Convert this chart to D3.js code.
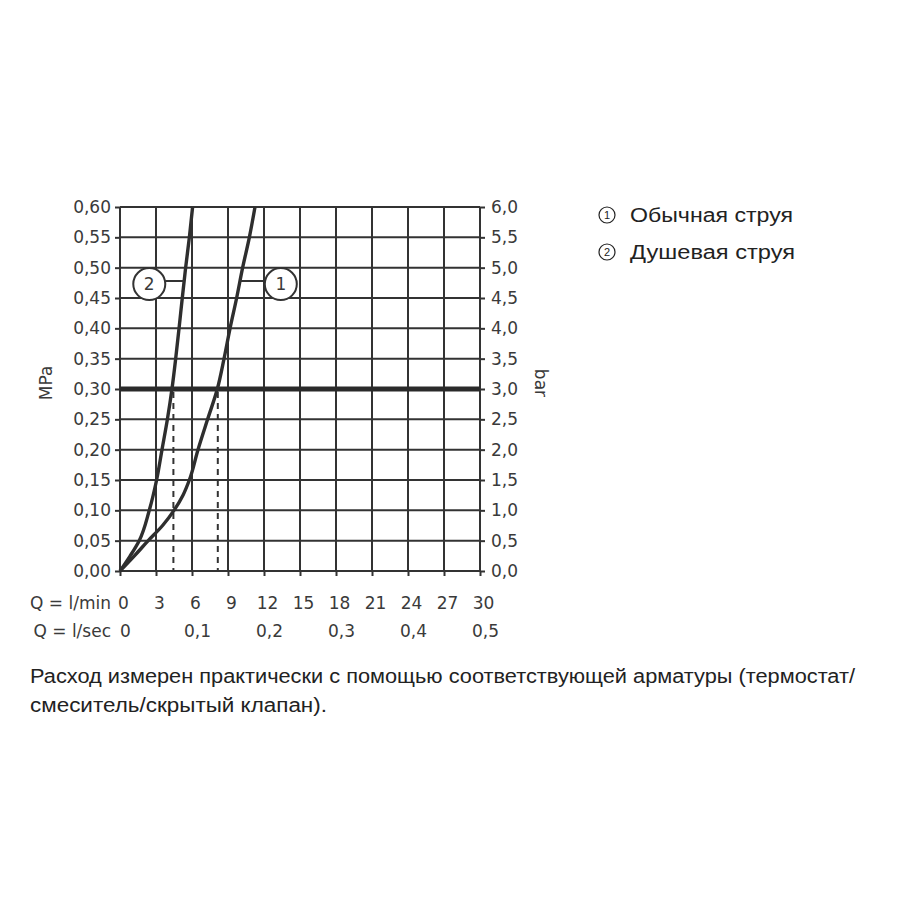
<!DOCTYPE html>
<html><head><meta charset="utf-8">
<script src="https://cdn.jsdelivr.net/npm/d3@7"></script>
<style>
body{margin:0;background:#fff;}
svg{display:block;}
</style></head>
<body>
<svg id="chart" width="900" height="900"></svg>
<script>
// ---- data ----
const qMinTicks = [0,3,6,9,12,15,18,21,24,27,30];
const qSecTicks = [0,0.1,0.2,0.3,0.4,0.5];
const mpaTicks = [0,0.05,0.10,0.15,0.20,0.25,0.30,0.35,0.40,0.45,0.50,0.55,0.60];
const barTicks = [0,0.5,1,1.5,2,2.5,3,3.5,4,4.5,5,5.5,6];
const seriesNames = ["Обычная струя","Душевая струя"];
// curve 1: [Q l/min, MPa]
const curve1 = [[0,0],[1.2,0.025],[2.35,0.05],[3.55,0.075],[4.5,0.10],[5.25,0.125],[5.78,0.15],[6.5,0.20],[7.3,0.25],[8.11,0.30],[8.67,0.35],[9.17,0.40],[9.72,0.45],[10.22,0.50],[10.78,0.55],[11.25,0.60]];
// curve 2
const curve2 = [[0,0],[0.85,0.025],[1.6,0.05],[2.44,0.10],[3.05,0.15],[3.5,0.20],[3.95,0.25],[4.33,0.30],[4.64,0.35],[4.92,0.40],[5.19,0.45],[5.47,0.50],[5.78,0.55],[6.05,0.60]];
const refPressure = 0.30;
const refFlows = [8.15, 4.45];
const calloutQ = [13.4, 2.44];
const calloutP = 0.473;
const footnote = ["Расход измерен практически с помощью соответствующей арматуры (термостат/","смеситель/скрытый клапан)."];

// ---- scales ----
const svg = d3.select("#chart");
const x = d3.scaleLinear().domain([0,30]).range([120,480]);
const xSec = d3.scaleLinear().domain([0,0.5]).range([120,480]);
const y = d3.scaleLinear().domain([0,0.6]).range([571,207]);
const yBar = d3.scaleLinear().domain([0,6]).range([571,207]);
const ink = "#333";
const font = "'DejaVu Sans', sans-serif";
const comma = s => s.replace('.', ',');

// grid
const g = svg.append("g");
g.selectAll("line.v").data(qMinTicks).join("line")
  .attr("x1", d=>x(d)).attr("x2", d=>x(d)).attr("y1", y(0)).attr("y2", y(0.6))
  .attr("stroke", ink).attr("stroke-width", 2);
g.selectAll("line.h").data(mpaTicks).join("line")
  .attr("y1", d=>y(d)).attr("y2", d=>y(d)).attr("x1", x(0)).attr("x2", x(30))
  .attr("stroke", ink).attr("stroke-width", 2);

// axes
function styleAxis(sel){
  sel.select(".domain").remove();
  sel.selectAll(".tick line").attr("stroke", ink).attr("stroke-width", 2);
  sel.selectAll(".tick text").attr("fill", "#3a3a3a").style("font-family", font).style("font-size", "17px");
}
svg.append("g").attr("transform", `translate(${x(0)},0)`)
  .call(d3.axisLeft(y).tickValues(mpaTicks).tickSize(5).tickPadding(4).tickFormat(d=>comma(d.toFixed(2))))
  .call(styleAxis);
svg.append("g").attr("transform", `translate(${x(30)},0)`)
  .call(d3.axisRight(yBar).tickValues(barTicks).tickSize(5).tickPadding(6).tickFormat(d=>comma(d.toFixed(1))))
  .call(styleAxis);
svg.append("g").attr("transform", `translate(0,${y(0)})`)
  .call(d3.axisBottom(x).tickValues(qMinTicks).tickSize(5).tickPadding(21).tickFormat(d=>String(d)))
  .call(styleAxis)
  .selectAll(".tick text").attr("dx", 3);
svg.append("g").attr("transform", `translate(0,${y(0)+28})`)
  .call(d3.axisBottom(xSec).tickValues(qSecTicks).tickSize(0).tickPadding(26).tickFormat(d=>d===0?"0":comma(String(d))))
  .call(styleAxis)
  .selectAll(".tick text").attr("dx", 5);

// row labels
svg.append("text").attr("x", 111).attr("y", 603).attr("dy", "0.35em").attr("text-anchor", "end")
  .attr("fill", "#3a3a3a").style("font-family", font).style("font-size", "17px").text("Q = l/min");
svg.append("text").attr("x", 111).attr("y", 631).attr("dy", "0.35em").attr("text-anchor", "end")
  .attr("fill", "#3a3a3a").style("font-family", font).style("font-size", "17px").text("Q = l/sec");

// axis titles
svg.append("text").attr("transform", `translate(52,${y(0.31)}) rotate(-90)`).attr("text-anchor", "middle")
  .attr("fill", "#3a3a3a").style("font-family", font).style("font-size", "17px").text("MPa");
svg.append("text").attr("transform", `translate(535,${y(0.31)}) rotate(90)`).attr("text-anchor", "middle")
  .attr("fill", "#3a3a3a").style("font-family", font).style("font-size", "17px").text("bar");

// reference line 0.30
svg.append("line").attr("x1", x(0)).attr("x2", x(30)).attr("y1", y(refPressure)).attr("y2", y(refPressure))
  .attr("stroke", "#2a2a2a").attr("stroke-width", 5);

// dashed drop lines
svg.selectAll("line.drop").data(refFlows).join("line")
  .attr("x1", d=>x(d)).attr("x2", d=>x(d)).attr("y1", y(refPressure)+3).attr("y2", y(0))
  .attr("stroke", ink).attr("stroke-width", 2).attr("stroke-dasharray", "6,5");

// curves
const line = d3.line().x(d=>x(d[0])).y(d=>y(d[1])).curve(d3.curveMonotoneY);
[curve1, curve2].forEach(c=>{
  svg.append("path").datum(c).attr("d", line).attr("fill", "none")
    .attr("stroke", "#2e2e2e").attr("stroke-width", 3.4).attr("stroke-linejoin", "round");
});

// callouts
function qAt(curve, p){
  for(let i=1;i<curve.length;i++){
    if(curve[i][1]>=p){const a=curve[i-1], b=curve[i]; return a[0]+(b[0]-a[0])*(p-a[1])/(b[1]-a[1]);}
  }
  return curve[curve.length-1][0];
}
const r = 16;
[[curve1, calloutQ[0], "1"], [curve2, calloutQ[1], "2"]].forEach(([c, q, lab])=>{
  const cx = x(q), cy = y(calloutP);
  const qc = qAt(c, calloutP+0.005);
  const lx = x(qc), ly = y(calloutP+0.005);
  const edge = cx < lx ? cx + r : cx - r;
  svg.append("line").attr("x1", edge).attr("x2", lx).attr("y1", ly).attr("y2", ly)
    .attr("stroke", ink).attr("stroke-width", 2);
  svg.append("circle").attr("cx", cx).attr("cy", cy).attr("r", r)
    .attr("fill", "#fff").attr("stroke", ink).attr("stroke-width", 2);
  svg.append("text").attr("x", cx).attr("y", cy).attr("dy", "0.36em").attr("text-anchor", "middle")
    .attr("fill", "#3a3a3a").style("font-family", font).style("font-size", "17px").text(lab);
});

// legend
const legendFont = "'Liberation Sans', Arial, sans-serif";
const legendWidths = [163, 165];
seriesNames.forEach((name, i)=>{
  const cy = 215 + i*37;
  svg.append("circle").attr("cx", 607).attr("cy", cy).attr("r", 8)
    .attr("fill", "none").attr("stroke", "#222").attr("stroke-width", 1.2);
  svg.append("text").attr("x", 607).attr("y", cy).attr("dy", "0.36em").attr("text-anchor", "middle")
    .attr("fill", "#222").style("font-family", legendFont).style("font-size", "11px").text(String(i+1));
  svg.append("text").attr("x", 630).attr("y", cy).attr("dy", "0.36em")
    .attr("fill", "#222").style("font-family", legendFont).style("font-size", "20px")
    .attr("textLength", legendWidths[i]).attr("lengthAdjust", "spacingAndGlyphs").text(name);
});

// footnote
const noteFont = "'Liberation Sans Narrow', 'Liberation Sans', Arial, sans-serif";
const noteWidths = [825, 297];
footnote.forEach((t, i)=>{
  svg.append("text").attr("x", 30).attr("y", 676 + i*29).attr("dy", "0.36em")
    .attr("fill", "#222").style("font-family", noteFont).style("font-size", "20px")
    .attr("textLength", noteWidths[i]).attr("lengthAdjust", "spacingAndGlyphs").text(t);
});
</script>
</body></html>
